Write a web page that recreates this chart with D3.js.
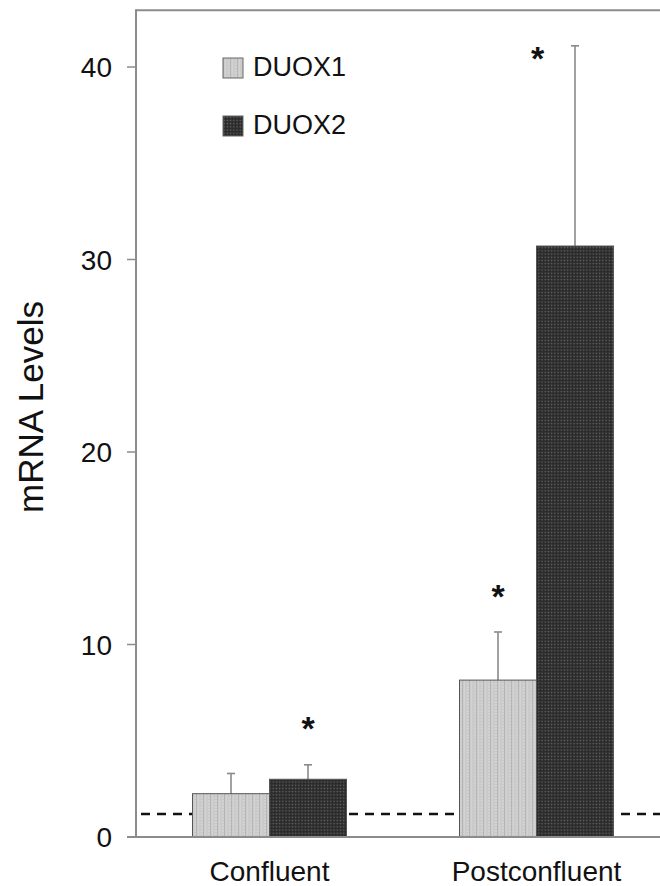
<!DOCTYPE html>
<html>
<head>
<meta charset="utf-8">
<script src="https://cdn.jsdelivr.net/npm/d3@7/dist/d3.min.js"></script>
<style>
  html, body { margin: 0; padding: 0; background: #fff; }
  svg { display: block; font-family: "Liberation Sans", Arial, Helvetica, sans-serif; }
</style>
</head>
<body>
<svg id="chart" width="660" height="886"></svg>
<script>
// ---- data ----
const categories = ["Confluent", "Postconfluent"];
const seriesNames = ["DUOX1", "DUOX2"];
const duox1Values = [2.25, 8.15];
const duox2Values = [3.0, 30.7];
const duox1ErrTop = [3.3, 10.65];
const duox2ErrTop = [3.75, 41.1];
const duox1Sig = [null, 12.85];
const duox2Sig = [5.95, 40.8];
const yTicks = [0, 10, 20, 30, 40];
const yMax = 43;
const baselineLevel = 1.2;

// ---- layout ----
const svg = d3.select("#chart");
const plotLeft = 136, plotBottom = 837, plotTop = 9.25;
const x0 = d3.scalePoint().domain(categories).range([plotLeft, plotLeft + 534]).padding(0.5);
const groupW = 154;
const x1 = d3.scaleBand().domain(seriesNames).range([-groupW / 2, groupW / 2]).padding(0);
const y = d3.scaleLinear().domain([0, yMax]).range([plotBottom, plotTop]);

const values = { DUOX1: duox1Values, DUOX2: duox2Values };
const errs = { DUOX1: duox1ErrTop, DUOX2: duox2ErrTop };
const sigs = { DUOX1: duox1Sig, DUOX2: duox2Sig };

// ---- patterns ----
const defs = svg.append("defs");
const p1 = defs.append("pattern").attr("id", "pat1").attr("patternUnits", "userSpaceOnUse")
  .attr("width", 7).attr("height", 3);
p1.append("rect").attr("width", 7).attr("height", 3).attr("fill", "#d2d2d2");
p1.append("rect").attr("x", 0).attr("width", 1.2).attr("height", 3).attr("fill", "#b5b5b5");
p1.append("rect").attr("x", 3.5).attr("width", 1).attr("height", 3).attr("fill", "#c2c2c2");
p1.append("rect").attr("x", 5.5).attr("y", 1).attr("width", 1).attr("height", 1).attr("fill", "#bcbcbc");

const p2 = defs.append("pattern").attr("id", "pat2").attr("patternUnits", "userSpaceOnUse")
  .attr("width", 3.2).attr("height", 3.2);
p2.append("rect").attr("width", 3.2).attr("height", 3.2).attr("fill", "#2b2b2b");
p2.append("rect").attr("x", 0.6).attr("y", 0.6).attr("width", 1.3).attr("height", 1.3).attr("fill", "#6a6a6a");
const fills = { DUOX1: "url(#pat1)", DUOX2: "url(#pat2)" };

// ---- frame ----
svg.append("line").attr("x1", plotLeft).attr("x2", 660).attr("y1", plotTop + 1).attr("y2", plotTop + 1)
  .attr("stroke", "#8c8c8c").attr("stroke-width", 2);

// dashed reference line (behind bars)
svg.append("line").attr("x1", plotLeft + 5).attr("x2", 660)
  .attr("y1", y(baselineLevel)).attr("y2", y(baselineLevel))
  .attr("stroke", "#111").attr("stroke-width", 2.5).attr("stroke-dasharray", "9,7");

// ---- bars ----
const flat = [];
categories.forEach((c, i) => seriesNames.forEach(s => flat.push({
  cat: c, s, v: values[s][i], e: errs[s][i], sig: sigs[s][i]
})));

const g = svg.append("g");
const cx = d => x0(d.cat) + x1(d.s) + x1.bandwidth() / 2;
// error bars
g.selectAll(".err").data(flat).join("line")
  .attr("x1", cx).attr("x2", cx)
  .attr("y1", d => y(d.v)).attr("y2", d => y(d.e))
  .attr("stroke", "#8a8a8a").attr("stroke-width", 1.6);
g.selectAll(".cap").data(flat).join("line")
  .attr("x1", d => cx(d) - 4).attr("x2", d => cx(d) + 4)
  .attr("y1", d => y(d.e)).attr("y2", d => y(d.e))
  .attr("stroke", "#8a8a8a").attr("stroke-width", 1.6);

g.selectAll(".bar").data(flat).join("rect")
  .attr("x", d => x0(d.cat) + x1(d.s))
  .attr("y", d => y(d.v))
  .attr("width", x1.bandwidth())
  .attr("height", d => y(0) - y(d.v))
  .attr("fill", d => fills[d.s])
  .attr("stroke", "#555").attr("stroke-width", 1);

// significance asterisks
g.selectAll(".sig").data(flat.filter(d => d.sig != null)).join("text")
  .attr("x", d => (d.sig < d.e) ? x0(d.cat) + x1(d.s) + 1 : cx(d))
  .attr("y", d => y(d.sig) + 18)
  .attr("text-anchor", "middle")
  .attr("font-size", 34).attr("font-weight", "bold").attr("fill", "#111")
  .text("*");

// ---- axes ----
const yAxis = svg.append("g");
yAxis.append("line").attr("x1", plotLeft).attr("x2", plotLeft).attr("y1", plotTop).attr("y2", plotBottom)
  .attr("stroke", "#8c8c8c").attr("stroke-width", 2);
yAxis.selectAll(".tick").data(yTicks).join("line")
  .attr("x1", plotLeft - 9).attr("x2", plotLeft).attr("y1", d => y(d)).attr("y2", d => y(d))
  .attr("stroke", "#8c8c8c").attr("stroke-width", 1.5);
yAxis.selectAll(".tl").data(yTicks).join("text")
  .attr("x", 112).attr("y", d => y(d) + 10)
  .attr("text-anchor", "end").attr("font-size", 28).attr("fill", "#111")
  .text(d => d);

svg.append("line").attr("x1", plotLeft - 9).attr("x2", 660).attr("y1", plotBottom).attr("y2", plotBottom)
  .attr("stroke", "#8c8c8c").attr("stroke-width", 2);

svg.selectAll(".cl").data(categories).join("text")
  .attr("x", d => x0(d)).attr("y", 881)
  .attr("text-anchor", "middle").attr("font-size", 28).attr("fill", "#111")
  .text(d => d);

svg.append("text").attr("transform", "translate(43,407) rotate(-90)")
  .attr("text-anchor", "middle").attr("font-size", 35).attr("fill", "#111")
  .text("mRNA Levels");

// ---- legend ----
const leg = svg.append("g").selectAll("g").data(seriesNames).join("g")
  .attr("transform", (d, i) => `translate(223,${58 + i * 58})`);
leg.append("rect").attr("width", 20).attr("height", 20)
  .attr("fill", d => fills[d]).attr("stroke", "#666").attr("stroke-width", 1);
leg.append("text").attr("x", 30).attr("y", 18).attr("font-size", 27).attr("fill", "#111")
  .text(d => d);
</script>
</body>
</html>
